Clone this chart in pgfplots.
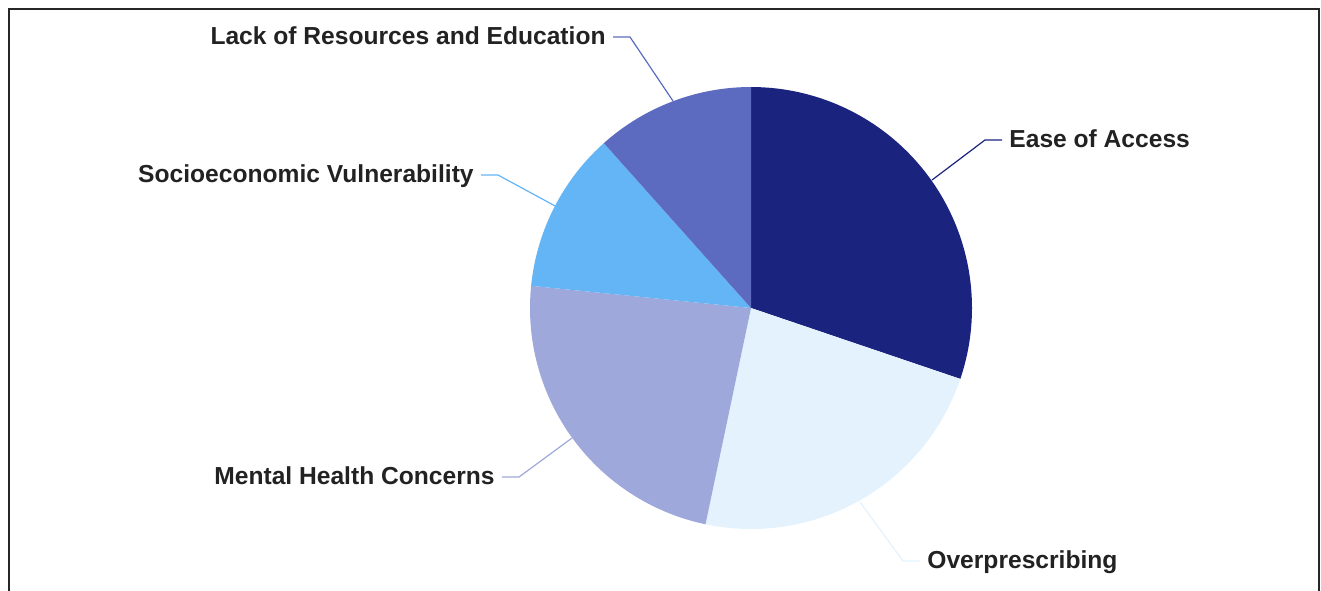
\documentclass[border=0pt]{standalone}
\usepackage{fontspec}
\setmainfont{Liberation Sans}
\usepackage{pgfplots}
\pgfplotsset{compat=1.18}
\definecolor{cEase}{HTML}{1A237E}
\definecolor{cOver}{HTML}{E3F2FD}
\definecolor{cMent}{HTML}{9FA8DA}
\definecolor{cSoc}{HTML}{64B5F6}
\definecolor{cLack}{HTML}{5C6BC0}
\definecolor{txt}{HTML}{222222}
\tikzset{lbl/.style={font=\bfseries\fontsize{12.3}{14}\selectfont, text=txt, inner sep=0pt, yshift=-1.2pt}}
% shares (percent), clockwise from 12 o'clock
\def\vEase{30.2}
\def\vOver{23.1}
\def\vMent{23.3}
\def\vSoc{11.8}
\def\vLack{11.6}
\pgfmathsetmacro\aA{90-3.6*\vEase}
\pgfmathsetmacro\aB{\aA-3.6*\vOver}
\pgfmathsetmacro\aC{\aB-3.6*\vMent}
\pgfmathsetmacro\aD{\aC-3.6*\vSoc}
\pgfmathsetmacro\aE{\aD-3.6*\vLack}
\begin{document}
\begin{tikzpicture}
\begin{axis}[
  scale only axis, width=660.5pt, height=295pt,
  xmin=0, xmax=1321, ymin=0, ymax=590, y dir=reverse,
  hide axis, clip=true,
]
\addplot[fill=cEase, draw=none, domain=\aA:90, samples=100] ({751+221*cos(x)},{308-221*sin(x)}) -- (axis cs:751,308) -- cycle;
\addplot[fill=cOver, draw=none, domain=\aB:\aA, samples=100] ({751+221*cos(x)},{308-221*sin(x)}) -- (axis cs:751,308) -- cycle;
\addplot[fill=cMent, draw=none, domain=\aC:\aB, samples=100] ({751+221*cos(x)},{308-221*sin(x)}) -- (axis cs:751,308) -- cycle;
\addplot[fill=cSoc, draw=none, domain=\aD:\aC, samples=100] ({751+221*cos(x)},{308-221*sin(x)}) -- (axis cs:751,308) -- cycle;
\addplot[fill=cLack, draw=none, domain=\aE:\aD, samples=100] ({751+221*cos(x)},{308-221*sin(x)}) -- (axis cs:751,308) -- cycle;
% leader lines
\draw[cLack, line width=0.6pt] (axis cs:673,101) -- (axis cs:630,37) -- (axis cs:613,37);
\draw[cEase, line width=0.6pt] (axis cs:932,180) -- (axis cs:985,140) -- (axis cs:1002,140);
\draw[cSoc, line width=0.6pt] (axis cs:557,207) -- (axis cs:498,175) -- (axis cs:481,175);
\draw[cMent, line width=0.6pt] (axis cs:572,438) -- (axis cs:519,477) -- (axis cs:502,477);
\draw[cOver, line width=0.6pt] (axis cs:860,502) -- (axis cs:903,561) -- (axis cs:920,561);
% labels
\node[lbl, anchor=mid east] at (axis cs:606,37) {Lack of Resources and Education};
\node[lbl, anchor=mid west] at (axis cs:1009,140) {Ease of Access};
\node[lbl, anchor=mid east] at (axis cs:474,175) {Socioeconomic Vulnerability};
\node[lbl, anchor=mid east] at (axis cs:495,477) {Mental Health Concerns};
\node[lbl, anchor=mid west] at (axis cs:927,561) {Overprescribing};
% frame
\draw[black!85, line width=1pt] (axis cs:8.5,700) -- (axis cs:8.5,8.5) -- (axis cs:1318.5,8.5) -- (axis cs:1318.5,700);
\end{axis}
\pgfresetboundingbox
\path[use as bounding box] (current axis.south west) rectangle (current axis.north east);
\end{tikzpicture}
\end{document}
